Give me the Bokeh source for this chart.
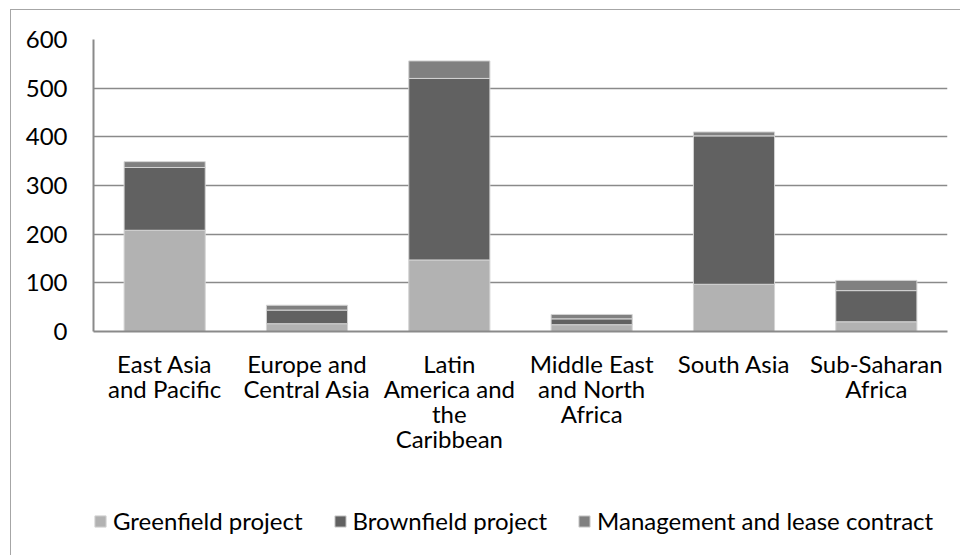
from bokeh.plotting import figure
from bokeh.layouts import column
from bokeh.models import (ColumnDataSource, Range1d, FixedTicker, Legend,
                          LegendItem, LinearAxis)
from bokeh.embed import file_html
from bokeh.resources import INLINE

# PPI projects by region and type
region_labels = ["East Asia\nand Pacific", "Europe and\nCentral Asia",
                 "Latin\nAmerica and\nthe\nCaribbean",
                 "Middle East\nand North\nAfrica", "South Asia",
                 "Sub-Saharan\nAfrica"]
greenfield = [208, 16, 147, 14, 97, 20]
brownfield = [129, 28, 373, 12, 305, 64]
management = [12, 10, 36, 9, 8, 21]
series_names = ["Greenfield project", "Brownfield project",
                "Management and lease contract"]
y_ticks = [0, 100, 200, 300, 400, 500, 600]

FONT = "Lato"
FS = "24px"
GRID = "#8a8a8a"
colors = ["#b2b2b2", "#616161", "#808080"]
stack = ["green", "brown", "mgmt"]

pos = list(range(len(region_labels)))
src = ColumnDataSource(dict(pos=pos, green=greenfield,
                            brown=brownfield, mgmt=management))

# ---- main chart -------------------------------------------------------
p = figure(x_range=Range1d(-0.5, len(pos) - 0.5), y_range=Range1d(0, 600),
           width=949, height=451,
           output_backend="svg", toolbar_location=None,
           min_border_left=82, min_border_right=13, min_border_top=29,
           min_border_bottom=130)
p.outline_line_color = None
p.background_fill_color = "white"
p.border_fill_color = "white"

bars = p.vbar_stack(stack, x="pos", width=0.57, source=src,
                    fill_color=colors, line_color="#d4d4d4", line_width=1)

# category labels: one axis per text line
lines = [lab.split("\n") for lab in region_labels]
n_lines = max(len(l) for l in lines)
xaxes = [p.xaxis[0]]
for _ in range(n_lines - 1):
    ax = LinearAxis()
    p.add_layout(ax, "below")
    xaxes.append(ax)

for k, ax in enumerate(xaxes):
    ax.ticker = FixedTicker(ticks=pos, minor_ticks=[])
    ax.major_label_overrides = {i: (l[k] if k < len(l) else "")
                                for i, l in zip(pos, lines)}
    ax.major_label_text_font = FONT
    ax.major_label_text_font_size = FS
    ax.major_label_text_color = "black"
    ax.major_tick_line_color = None
    ax.minor_tick_line_color = None
    ax.major_tick_out = 0
    ax.major_tick_in = 0
    ax.major_label_standoff = -7
    ax.axis_line_color = None
xaxes[0].major_label_standoff = 17
xaxes[0].axis_line_color = GRID
xaxes[0].axis_line_width = 2

p.yaxis.ticker = FixedTicker(ticks=y_ticks, minor_ticks=[])
p.yaxis.major_label_text_font = FONT
p.yaxis.major_label_text_font_size = FS
p.yaxis.major_label_text_color = "black"
p.yaxis.major_label_standoff = 26
p.yaxis.major_tick_line_color = None
p.yaxis.major_tick_out = 0
p.yaxis.minor_tick_line_color = None
p.yaxis.axis_line_color = GRID
p.yaxis.axis_line_width = 2

p.xgrid.grid_line_color = None
p.ygrid.grid_line_color = GRID
p.ygrid.grid_line_width = 1.5

# ---- legend strip -----------------------------------------------------
# same stacked series, kept out of view; only the legend is shown
lg = figure(x_range=Range1d(-0.5, len(pos) - 0.5),
            y_range=Range1d(10000, 10001), width=949, height=104,
            output_backend="svg", toolbar_location=None,
            x_axis_location=None, y_axis_location=None, min_border=0)
lg.outline_line_color = None
lg.grid.grid_line_color = None
lg_bars = lg.vbar_stack(stack, x="pos", width=0.57, source=src,
                        fill_color=colors, line_color="#d4d4d4", line_width=1)

legend = Legend(items=[LegendItem(label=n, renderers=[r])
                       for n, r in zip(series_names, lg_bars)],
                orientation="horizontal", location=(0, 30),
                glyph_width=14, glyph_height=14, label_standoff=6,
                spacing=30, padding=0, margin=0,
                border_line_color=None, background_fill_alpha=0,
                label_text_font=FONT, label_text_font_size="24px",
                label_text_color="black")
lg.add_layout(legend)

page = column(p, lg, spacing=0)
# chart-area border along the left and top edges
page.styles = {"margin-left": "10px", "margin-top": "9px",
               "border-left": "1px solid #a6a6a6",
               "border-top": "1px solid #a6a6a6"}

open("out.html", "w").write(file_html(page, INLINE))
